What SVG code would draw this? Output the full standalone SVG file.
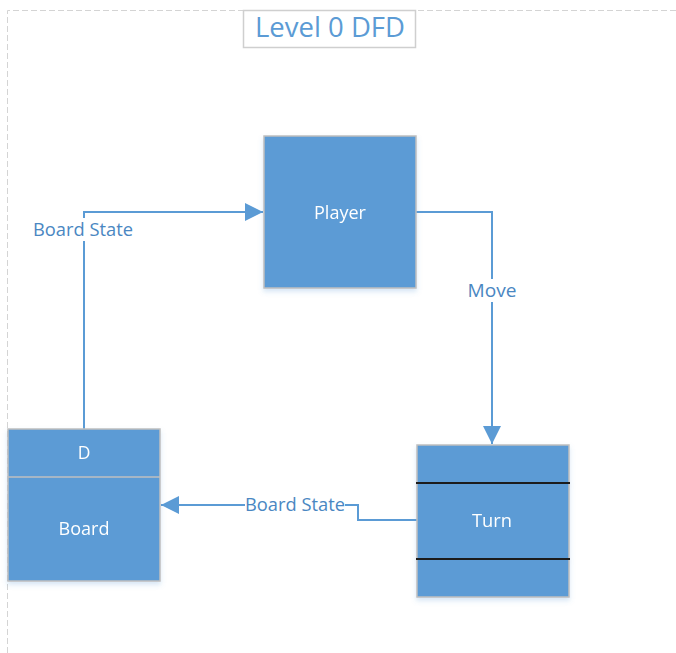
<svg xmlns="http://www.w3.org/2000/svg" width="676" height="653" viewBox="0 0 676 653">
  <defs>
    <style>
      .frame { fill: none; stroke: #d4d4d4; stroke-width: 1; stroke-dasharray: 6 3; }
      .node { fill: #5b9bd5; stroke: #bfbfbf; stroke-width: 1.5; }
      .nodetext { fill: #ffffff; font-family: "Open Sans", "Noto Sans", sans-serif; font-size: 17.5px; text-anchor: middle; dominant-baseline: central; }
      .flow { fill: none; stroke: #5b9bd5; stroke-width: 2; }
      .flowlabel { fill: #4a87c2; font-family: "Open Sans", "Noto Sans", sans-serif; font-size: 17.5px; text-anchor: middle; dominant-baseline: central; }
      .rule { stroke: #1a1a1a; stroke-width: 2; }
      .title { fill: #5b9bd5; font-family: "Open Sans", "Noto Sans", sans-serif; font-size: 27px; text-anchor: middle; }
    </style>
    <marker id="arrow" viewBox="0 0 10 10" refX="10" refY="5" markerWidth="9" markerHeight="9" markerUnits="strokeWidth" orient="auto">
      <path d="M0,0 L10,5 L0,10 Z" fill="#5b9bd5"/>
    </marker>
    <filter id="shadow" x="-10%" y="-10%" width="130%" height="130%">
      <feDropShadow dx="0" dy="3" stdDeviation="2.5" flood-color="#5b9bd5" flood-opacity="0.25"/>
    </filter>
  </defs>

  <rect width="676" height="653" fill="#ffffff"/>

  <!-- page frame -->
  <path class="frame" d="M7.5,653 V10.5 H676"/>

  <!-- title -->
  <g id="title">
    <rect x="243.5" y="10.5" width="172" height="37" fill="#ffffff" stroke="#cfcfcf" stroke-width="1.5"/>
    <text class="title" x="330" y="37" textLength="150" lengthAdjust="spacingAndGlyphs">Level 0 DFD</text>
  </g>

  <!-- data flows -->
  <g id="connectors">
    <!-- Board -> Player -->
    <path class="flow" d="M84,429 V241"/>
    <path class="flow" d="M84,218 V212 H263" marker-end="url(#arrow)"/>
    <text class="flowlabel" x="83" y="229" textLength="100" lengthAdjust="spacingAndGlyphs">Board State</text>
    <!-- Player -> Turn -->
    <path class="flow" d="M416,212 H492 V279"/>
    <path class="flow" d="M492,302 V444" marker-end="url(#arrow)"/>
    <text class="flowlabel" x="492" y="290" textLength="49" lengthAdjust="spacingAndGlyphs">Move</text>
    <!-- Turn -> Board -->
    <path class="flow" d="M417,520 H358 V505 H345"/>
    <path class="flow" d="M245,505 H161" marker-end="url(#arrow)"/>
    <text class="flowlabel" x="295" y="504" textLength="100" lengthAdjust="spacingAndGlyphs">Board State</text>
  </g>

  <!-- external entity -->
  <g id="player" filter="url(#shadow)">
    <rect class="node" x="264" y="136" width="152" height="152"/>
    <text class="nodetext" x="340" y="212" textLength="52" lengthAdjust="spacingAndGlyphs">Player</text>
  </g>

  <!-- process -->
  <g id="turn" filter="url(#shadow)">
    <rect class="node" x="417" y="445" width="152" height="152"/>
    <line class="rule" x1="416" y1="483" x2="570" y2="483"/>
    <line class="rule" x1="416" y1="559" x2="570" y2="559"/>
    <text class="nodetext" x="492" y="520" textLength="40" lengthAdjust="spacingAndGlyphs">Turn</text>
  </g>

  <!-- data store -->
  <g id="board" filter="url(#shadow)">
    <rect class="node" x="8" y="429" width="152" height="152"/>
    <line x1="8" y1="477" x2="160" y2="477" stroke="#bfbfbf" stroke-width="1.5"/>
    <text class="nodetext" x="84" y="452">D</text>
    <text class="nodetext" x="84" y="528" textLength="51" lengthAdjust="spacingAndGlyphs">Board</text>
  </g>
</svg>
